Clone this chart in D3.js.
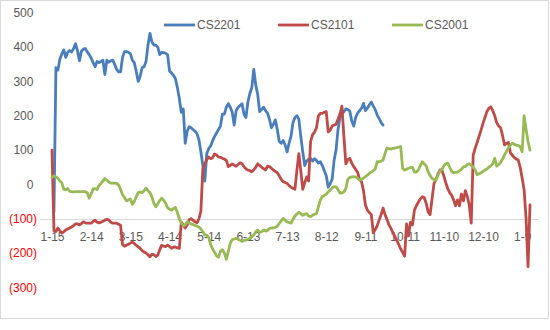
<!DOCTYPE html>
<html>
<head>
<meta charset="utf-8">
<script src="https://cdn.jsdelivr.net/npm/d3@7"></script>
<style>
  body { margin: 0; background: #fff; }
  text { font-family: "Liberation Sans", Arial, sans-serif; }
</style>
</head>
<body>
<svg id="chart" width="550" height="330"></svg>
<script>
// Spread series for three contracts, one value per trading day
const seriesNames = ["CS2201", "CS2101", "CS2001"];

// Category-axis labels, one shown every 20 trading days
const tickLabels = ["1-15", "2-14", "3-15", "4-14", "5-14", "6-13", "7-13",
                    "8-12", "9-11", "10-11", "11-10", "12-10", "1-9"];
const labelEvery = 20;

const yTicks = [500, 400, 300, 200, 100, 0, -100, -200, -300];

const cs2201 = [
  null, -80, 340, 333, 365, 380, 392, 370, 385, 390,
  386, 395, 410, 390, 360, 388, 394, 396, 386, 378,
  368, 355, 343, 358, 355, 358, 362, 320, 362, 356,
  360, 362, 350, 335, 328, 328, 370, 387, 387, 385,
  381, 362, 355, 330, 300, 315, 340, 343, 358, 406,
  440, 415, 406, 406, 400, 378, 385, 384, 382, 378,
  330, 325, 318, 308, 282, 250, 210, 220, 120, 155,
  168, 165, 160, 155, 148, 130, 95, 55, 10, 90,
  105, 112, 127, 140, 150, 160, 170, 205, 205, 225,
  235, 225, 210, 173, 215, 225, 230, 235, 205, 195,
  240, 265, 282, 335, 290, 262, 212, 218, 225, 215,
  208, 190, 165, 175, 188, 160, 125, 120, 128, 115,
  95, 120, 140, 180, 195, 200, 190, 140, 95, 55,
  68, 73, 76, 68, 75, 70, 62, 66, 55, 40,
  25, -8, 2, 15, 70, 100, 160, 195, 205, 212,
  220, 218, 214, 185, 170, 195, 208, 215, 222, 236,
  215, 222, 232, 240, 228, 218, 202, 192, 180, 173
];

const cs2101 = [
  100, -135, -137, -127, -135, -142, -138, -133, -130, -127,
  -124, -120, -115, -115, -118, -114, -109, -112, -113, -113,
  -113, -108, -104, -110, -112, -110, -107, -104, -102, -103,
  -110, -113, -113, -113, -116, -119, -175, -180, -177, -174,
  -171, -168, -172, -177, -182, -186, -193, -197, -200, -205,
  -211, -203, -205, -210, -206, -190, -177, -180, -181, -177,
  -181, -186, -183, -182, -185, -186, -110, -118, -127, -118,
  -103, -100, -104, -109, -112, -100, -78, 45, 60, 72,
  80, 75, 78, 89, 86, 80, 79, 76, 74, 70,
  52, 55, 60, 56, 53, 58, 63, 60, 52, 45,
  42, 40, 37, 43, 50, 60, 55, 50, 46, 42,
  53, 52, 47, 42, 38, 34, 25, 15, 8, 6,
  3, -3, -8, -11, -14, 40, 90, 40, -14, 5,
  22, 10, 125, 145, 152, 165, 200, 207, 207, 210,
  212, 153, 158, 170, 173, 175, 190, 205, 228, 140,
  60, 72, 76, 62, 52, 44, 35, 15, 8, -18,
  -60, -75, -82, -88, -140, -132, -120, -104, -88, -69,
  -88, -102, -118, -128, -140, -152, -163, -175, -188, -198,
  -209, -115, -150, -110, -118, -75, -62, -52, -42, -36,
  -38, -55, -80, -88, -42, 3, 14, 30, 42, 42,
  25, 5, -12, -24, -32, -45, -62, -45, -62, -28,
  -48, -18, -35, -60, -113, 85, 105, 122, 140, 158,
  178, 195, 212, 222, 226, 215, 200, 180, 170, 165,
  142, 115, 120, 122, 92, 85, 78, 74, 71, 50,
  18, -16, -100, -240, -60
];

const cs2001 = [
  20, 25, 22, 18, 10, 5, -14, -16, -12, -20,
  -21, -22, -21, -21, -21, -21, -21, -21, -25, -40,
  -27, -13, -12, -15, -3, 3, 10, 17, 12, 7,
  4, 4, 4, 3, -2, -14, -30, -38, -48, -45,
  -42, -58, -50, -36, -24, -22, -24, -18, -11, -18,
  -24, -36, -55, -65, -56, -47, -40, -46, -55, -68,
  -72, -75, -70, -67, -82, -100, -112, -120, -118, -109,
  -112, -115, -117, -119, -122, -124, -130, -138, -147, -148,
  -155, -175, -188, -198, -208, -212, -195, -190, -200, -218,
  -195, -172, -161, -159, -157, -160, -163, -166, -163, -162,
  -160, -157, -152, -147, -138, -133, -140, -138, -133, -136,
  -134, -128, -127, -127, -125, -122, -114, -106, -99, -104,
  -109, -111, -113, -102, -92, -86, -81, -86, -90, -87,
  -85, -92, -94, -90, -87, -85, -65, -45, -35, -32,
  -28, -22, -16, -10, -7, -7, -15, -25, -25, -22,
  -12, 15, 20, 22, 22, 22, 18, 12, 15, 18,
  23, 27, 32, 36, 40, 45, 66, 66, 68, 71,
  90, 106, 104, 103, 105, 106, 107, 109, 110, 46,
  42, 44, 47, 49, 50, 36, 36, 42, 55, 66,
  60, 54, 37, 26, 17, 14, 12, 26, 40, 42,
  54, 60, 62, 50, 38, 34, 35, 36, 40, 44,
  51, 52, 58, 60, 56, 50, 42, 28, 31, 34,
  38, 42, 45, 50, 54, 60, 76, 53, 58, 64,
  74, 86, 96, 106, 114, 120, 117, 114, 114, 110,
  95, 200, 160, 125, 100
];

const seriesValues = [cs2201, cs2101, cs2001];
const colors = ["#4A7EBB", "#BE4B48", "#98B954"];

const svg = d3.select("#chart");

// chart frame
svg.append("rect")
  .attr("x", 0.5).attr("y", 0.5)
  .attr("width", 548).attr("height", 318)
  .attr("fill", "#fff").attr("stroke", "#D9D9D9");

const nDays = cs2101.length;
const x = d3.scaleLinear().domain([0, nDays - 1]).range([52, 530]);
const y = d3.scaleLinear().domain([-300, 500]).range([287.4, 12.8]);

// value axis labels (accounting style: negatives in red brackets)
const yAxis = d3.axisLeft(y)
  .tickValues(yTicks)
  .tickSize(0)
  .tickPadding(0)
  .tickFormat(v => v < 0 ? `(${-v})` : `${v}`);

const gy = svg.append("g").attr("transform", "translate(37,0)").call(yAxis);
gy.select(".domain").remove();
gy.selectAll("text")
  .attr("font-size", 12)
  .style("font-family", '"Liberation Sans", Arial, sans-serif')
  .attr("fill", d => d < 0 ? "#FF0000" : "#595959")
  .attr("dx", d => d < 0 ? 0 : -3.6);

// category axis line sits at -100
svg.append("line")
  .attr("x1", 40).attr("x2", 538)
  .attr("y1", Math.round(y(-100)) + 0.5).attr("y2", Math.round(y(-100)) + 0.5)
  .attr("stroke", "#D9D9D9").attr("stroke-width", 1);

// category labels
const tickIdx = tickLabels.map((_, k) => k * labelEvery);
const xAxis = d3.axisBottom(x)
  .tickValues(tickIdx)
  .tickSize(0)
  .tickPadding(0)
  .tickFormat((d, k) => tickLabels[k]);
const gx = svg.append("g").attr("transform", "translate(0,232)").call(xAxis);
gx.select(".domain").remove();
gx.selectAll("text")
  .attr("font-size", 12)
  .style("font-family", '"Liberation Sans", Arial, sans-serif')
  .attr("fill", "#595959");

// series lines
const line = d3.line()
  .defined(d => d != null)
  .x((d, i) => x(i))
  .y(d => y(d));

seriesValues.forEach((vals, s) => {
  svg.append("path")
    .datum(vals)
    .attr("fill", "none")
    .attr("stroke", colors[s])
    .attr("stroke-width", 2.8)
    .attr("stroke-linejoin", "round")
    .attr("stroke-linecap", "round")
    .attr("d", line);
});

// legend
const legend = svg.append("g").attr("transform", "translate(164,25)");
seriesNames.forEach((name, s) => {
  const g = legend.append("g").attr("transform", `translate(${s * 114},0)`);
  g.append("line")
    .attr("x1", 0).attr("x2", 31)
    .attr("stroke", colors[s]).attr("stroke-width", 2.8);
  g.append("text")
    .attr("x", 33).attr("dy", "0.35em")
    .attr("font-size", 12)
    .attr("fill", "#595959")
    .text(name);
});
</script>
</body>
</html>
